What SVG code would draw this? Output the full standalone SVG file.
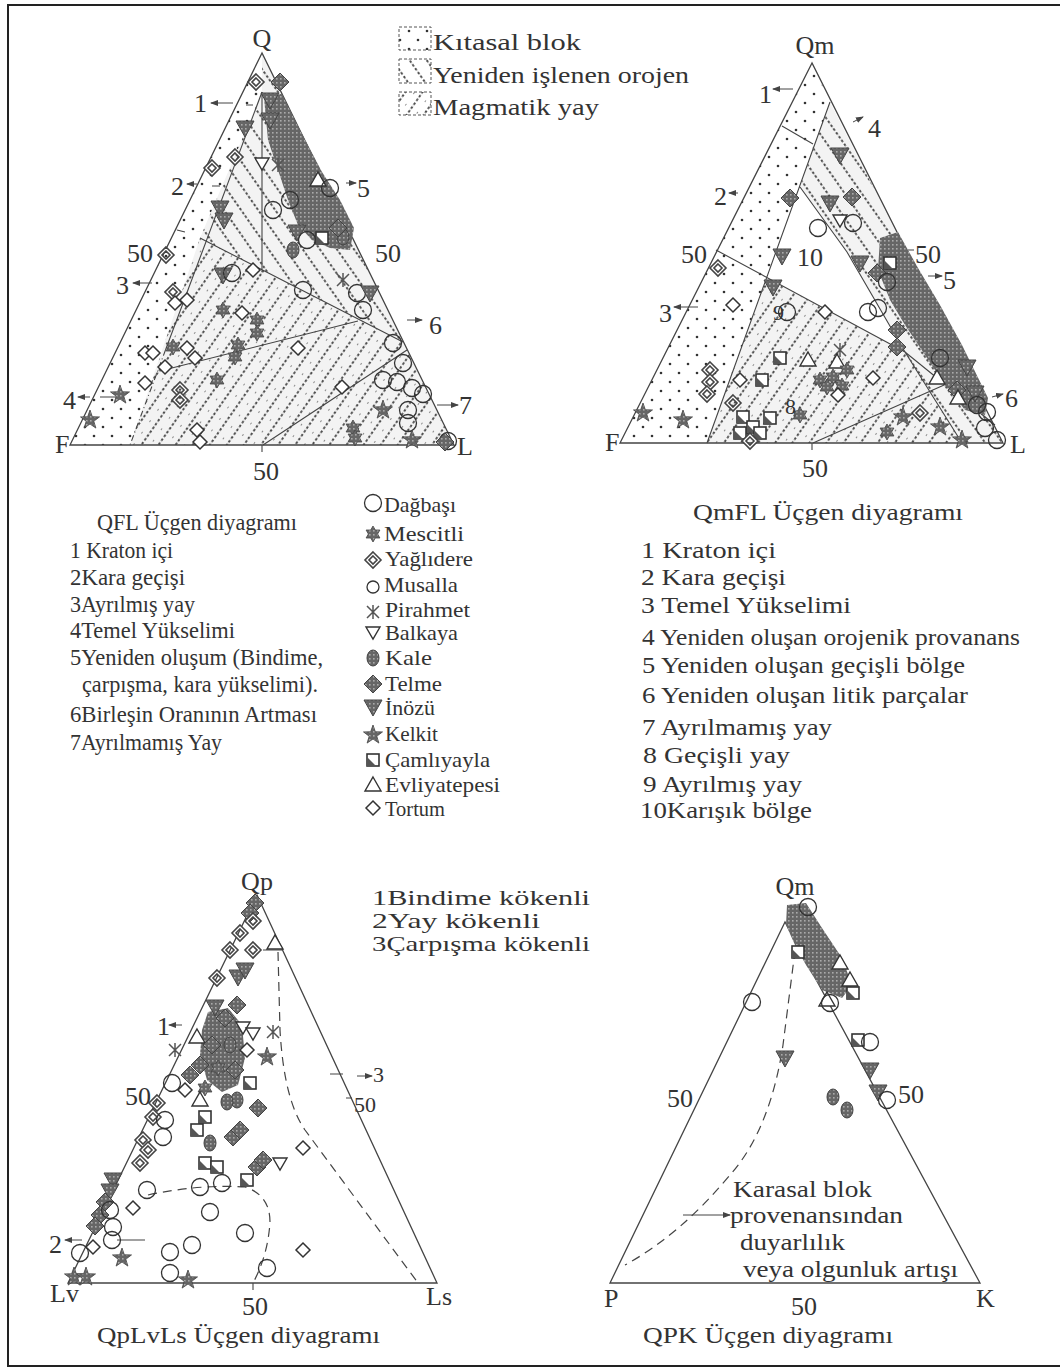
<svg xmlns="http://www.w3.org/2000/svg" width="1060" height="1370" viewBox="0 0 1060 1370">
<style>
.t{font-family:"Liberation Serif","DejaVu Serif",serif;fill:#333;font-size:24px}
.s{font-size:22px}
.lg{font-size:21px}
.ax{font-size:26px}
.side{fill:none;stroke:#444;stroke-width:1.3}
.ln{fill:none;stroke:#444;stroke-width:1.1}
.dash{fill:none;stroke:#444;stroke-width:1.2;stroke-dasharray:9 6}
.ar{fill:none;stroke:#444;stroke-width:1;marker-end:url(#ah)}
</style>
<defs>
<marker id="ah" viewBox="0 0 8 6" refX="7" refY="3" markerWidth="8" markerHeight="6" markerUnits="userSpaceOnUse" orient="auto"><path d="M0,0 L8,3 L0,6 Z" fill="#444"/></marker>
<pattern id="dots" width="18" height="18" patternUnits="userSpaceOnUse"><circle cx="4" cy="4" r="1.3" fill="#333"/><circle cx="13" cy="13" r="1.3" fill="#333"/></pattern>
<pattern id="hb" width="14" height="14" patternUnits="userSpaceOnUse" patternTransform="rotate(-35)"><line x1="7" y1="0" x2="7" y2="14" stroke="#333" stroke-width="1.7" stroke-dasharray="2.5 2.167"/></pattern>
<pattern id="hf" width="14" height="14" patternUnits="userSpaceOnUse" patternTransform="rotate(35)"><line x1="7" y1="0" x2="7" y2="14" stroke="#333" stroke-width="1.7" stroke-dasharray="2.5 2.167"/><circle cx="0" cy="7" r="0.9" fill="#555"/></pattern>
<pattern id="gt" width="4" height="4" patternUnits="userSpaceOnUse"><rect width="4" height="4" fill="#666"/><rect width="1.6" height="1.6" fill="#aaa"/></pattern>
<g id="c"><circle r="8.5" fill="none" stroke="#333" stroke-width="1.3"/></g>
<g id="m"><circle r="6" fill="none" stroke="#333" stroke-width="1.3"/></g>
<g id="ms"><path d="M0,-8 L2.3,-4 6.9,-4 4.6,0 6.9,4 2.3,4 0,8 -2.3,4 -6.9,4 -4.6,0 -6.9,-4 -2.3,-4Z" fill="url(#gt)" stroke="#444" stroke-width="0.8"/></g>
<g id="yg"><path d="M0,-8 L8,0 0,8 -8,0Z M0,-4 L4,0 0,4 -4,0Z" fill="#fff" fill-rule="evenodd" stroke="#444" stroke-width="1.6"/></g>
<g id="pr"><path d="M-6,-6 L6,6 M-6,6 L6,-6 M0,-7 L0,7" fill="none" stroke="#555" stroke-width="1.5"/></g>
<g id="bl"><path d="M-7,-5 L7,-5 0,7Z" fill="#fff" stroke="#333" stroke-width="1.4"/></g>
<g id="kl"><ellipse rx="6" ry="8" fill="url(#gt)" stroke="#444"/></g>
<g id="tl"><path d="M0,-9 L9,0 0,9 -9,0Z" fill="url(#gt)" stroke="#444"/></g>
<g id="in"><path d="M-9,-7 L9,-7 0,9Z" fill="url(#gt)" stroke="#444"/></g>
<g id="kk"><path d="M0,-10 L2.35,-3.24 9.51,-3.09 3.8,1.24 5.88,8.09 0,4 -5.88,8.09 -3.8,1.24 -9.51,-3.09 -2.35,-3.24Z" fill="url(#gt)" stroke="#444" stroke-width="0.8"/></g>
<g id="cm"><rect x="-6" y="-6" width="12" height="12" fill="#fff" stroke="#333" stroke-width="1.6"/><path d="M-6,-3 L3,6 L-6,6Z" fill="#555"/></g>
<g id="ev"><path d="M0,-8 L8,6 -8,6Z" fill="#fff" stroke="#333" stroke-width="1.4"/></g>
<g id="tr"><path d="M0,-7 L7,0 0,7 -7,0Z" fill="#fff" stroke="#333" stroke-width="1.5"/></g>
</defs>
<rect width="1060" height="1370" fill="#fff"/>
<path d="M1060,5 L8,5 L8,1366 L1060,1366" fill="none" stroke="#222" stroke-width="2"/>

<g id="legend-fields">
<rect x="399" y="27" width="32" height="23" fill="url(#dots)" stroke="#555" stroke-dasharray="3 2"/>
<rect x="399" y="59" width="32" height="24" fill="url(#hb)" stroke="#555" stroke-dasharray="3 2"/>
<rect x="399" y="92" width="32" height="23" fill="url(#hf)" stroke="#555" stroke-dasharray="3 2"/>
<text class="t" x="433" y="50" textLength="148" lengthAdjust="spacingAndGlyphs">Kıtasal blok</text>
<text class="t" x="433" y="83" textLength="256" lengthAdjust="spacingAndGlyphs">Yeniden işlenen orojen</text>
<text class="t" x="433" y="115" textLength="166" lengthAdjust="spacingAndGlyphs">Magmatik yay</text>
</g>

<g id="qfl">
<polygon points="262,53 70,445 130,445 262,92" fill="url(#dots)"/>
<polygon points="262,53 403,342 200,238 262,92" fill="#f3f3f3"/>
<polygon points="262,53 403,342 200,238 262,92" fill="url(#hb)"/>
<polygon points="200,238 403,342 454,445 130,445" fill="#f3f3f3"/>
<polygon points="200,238 403,342 454,445 130,445" fill="url(#hf)"/>
<polygon class="side" points="262,53 70,445 454,445"/>
<path class="ln" d="M262,92 L165.5,350"/>
<path class="ln" d="M165.5,350 L130,445" stroke-dasharray="6 3 1 3"/>
<path class="ln" d="M262,92 L262,272 M200,238 L403,342 M160,371 L358,321 M263,445 L407,350"/>
<path class="ln" d="M246,105 L253,105 M212,186 L220,186 M177,230 L185,232 M100,397 L118,397 M262,445 L262,452"/>
<path class="ar" d="M233,103 L211,103"/>
<path class="ar" d="M197,184 L187,184"/>
<path class="ar" d="M152,283 L133,283"/>
<path class="ar" d="M90,397 L78,397"/>
<path class="ar" d="M346,183 L356,183"/>
<path class="ar" d="M407,320 L422,320"/>
<path class="ar" d="M437,405 L458,405"/>
<polygon points="264,98 282,94 300,130 322,172 340,200 354,228 350,250 330,248 312,240 298,225 288,200 278,170 268,140" fill="url(#gt)"/>
<use href="#yg" x="256" y="82"/><use href="#tl" x="280" y="82"/>
<use href="#in" x="245" y="128"/><use href="#in" x="270" y="100"/><use href="#in" x="270" y="120"/>
<use href="#yg" x="235" y="157"/><use href="#yg" x="212" y="168"/><use href="#yg" x="166" y="255"/>
<use href="#bl" x="262" y="163"/><use href="#pr" x="278" y="165"/>
<use href="#in" x="220" y="208"/><use href="#in" x="224" y="220"/><use href="#c" x="273" y="210"/><use href="#c" x="290" y="200"/>
<use href="#ev" x="318" y="180"/><use href="#c" x="330" y="188"/><use href="#in" x="297" y="232"/><use href="#c" x="307" y="240"/>
<use href="#cm" x="322" y="238"/><use href="#kl" x="293" y="250"/><use href="#kl" x="343" y="237"/><use href="#tl" x="338" y="228"/>
<use href="#in" x="223" y="275"/><use href="#c" x="232" y="273"/><use href="#tr" x="253" y="270"/><use href="#c" x="303" y="290"/>
<use href="#pr" x="343" y="280"/><use href="#c" x="357" y="293"/><use href="#in" x="370" y="293"/><use href="#c" x="363" y="310"/>
<use href="#yg" x="173" y="292"/><use href="#tr" x="175" y="303"/><use href="#tr" x="187" y="300"/>
<use href="#ms" x="223" y="310"/><use href="#tr" x="242" y="313"/><use href="#ms" x="257" y="320"/><use href="#ms" x="257" y="333"/>
<use href="#c" x="393" y="343"/>
<use href="#tr" x="145" y="353"/><use href="#tr" x="153" y="353"/><use href="#ms" x="173" y="347"/><use href="#tr" x="187" y="348"/><use href="#tr" x="195" y="358"/>
<use href="#ms" x="238" y="345"/><use href="#ms" x="235" y="357"/><use href="#tr" x="298" y="348"/><use href="#tr" x="165" y="367"/>
<use href="#c" x="403" y="363"/><use href="#c" x="397" y="382"/><use href="#c" x="383" y="380"/><use href="#c" x="412" y="388"/><use href="#c" x="423" y="394"/>
<use href="#tr" x="145" y="383"/><use href="#ms" x="217" y="380"/><use href="#tr" x="342" y="387"/><use href="#yg" x="180" y="390"/><use href="#yg" x="180" y="400"/>
<use href="#kk" x="120" y="395"/><use href="#kk" x="90" y="420"/>
<use href="#kk" x="383" y="410"/><use href="#c" x="408" y="410"/><use href="#c" x="408" y="423"/>
<use href="#tr" x="197" y="430"/><use href="#tr" x="200" y="442"/>
<use href="#ms" x="353" y="428"/><use href="#ms" x="355" y="438"/><use href="#kk" x="412" y="440"/>
<use href="#c" x="448" y="441"/><use href="#tl" x="445" y="442"/>
<text class="t ax" x="262" y="47" text-anchor="middle">Q</text>
<text class="t ax" x="55" y="453">F</text>
<text class="t ax" x="457" y="455">L</text>
<text class="t ax" x="153" y="262" text-anchor="end">50</text>
<text class="t ax" x="375" y="262">50</text>
<text class="t ax" x="266" y="480" text-anchor="middle">50</text>
<text class="t ax" x="194" y="112">1</text>
<text class="t ax" x="171" y="195">2</text>
<text class="t ax" x="116" y="294">3</text>
<text class="t ax" x="63" y="409">4</text>
<text class="t ax" x="357" y="197">5</text>
<text class="t ax" x="429" y="334">6</text>
<text class="t ax" x="459" y="414">7</text>
</g>

<g id="qmfl">
<polygon points="812,63 620,443 707,443 830,102" fill="url(#dots)"/>
<polygon points="830,102 1003,443 962,443 905,352 847,252 800,187" fill="#f3f3f3"/>
<polygon points="830,102 1003,443 962,443 905,352 847,252 800,187" fill="url(#hb)"/>
<polygon points="767,278 905,352 962,443 707,443" fill="#f3f3f3"/>
<polygon points="767,278 905,352 962,443 707,443" fill="url(#hf)"/>
<polygon class="side" points="812,63 620,443 1003,443"/>
<path class="ln" d="M782,126 L813,144 M830,102 L707,443 M800,187 L847,252 L905,352 L962,443 M716,250 L905,352 L995,425 M813,443 L969,374 M812,443 L812,450 M908,250 L914,250"/>
<path class="ar" d="M793,89 L773,89"/>
<path class="ar" d="M738,193 L729,193"/>
<path class="ar" d="M698,307 L674,307"/>
<path class="ar" d="M853,122 L863,117"/>
<path class="ar" d="M928,276 L942,276"/>
<path class="ar" d="M992,397 L1003,394"/>
<polygon points="880,238 898,232 918,268 940,305 962,345 988,398 985,415 965,410 945,385 925,355 905,325 890,300 878,270" fill="url(#gt)"/>
<use href="#in" x="840" y="155"/><use href="#tl" x="790" y="198"/><use href="#in" x="830" y="203"/><use href="#tl" x="852" y="197"/>
<use href="#c" x="818" y="228"/><use href="#bl" x="840" y="220"/><use href="#c" x="853" y="223"/>
<use href="#in" x="782" y="256"/>
<use href="#yg" x="718" y="268"/><use href="#in" x="773" y="287"/>
<use href="#tr" x="733" y="305"/><use href="#c" x="787" y="312"/><use href="#tr" x="825" y="312"/><use href="#c" x="868" y="312"/><use href="#c" x="878" y="308"/>
<use href="#in" x="860" y="263"/><use href="#tl" x="877" y="273"/><use href="#cm" x="890" y="263"/><use href="#c" x="887" y="282"/>
<use href="#tl" x="897" y="330"/><use href="#tl" x="897" y="347"/>
<use href="#yg" x="710" y="370"/><use href="#yg" x="710" y="382"/><use href="#yg" x="707" y="394"/><use href="#tr" x="740" y="380"/><use href="#yg" x="733" y="403"/>
<use href="#cm" x="762" y="380"/><use href="#cm" x="780" y="358"/>
<use href="#ev" x="808" y="360"/><use href="#pr" x="840" y="350"/><use href="#ev" x="837" y="362"/>
<use href="#ms" x="820" y="380"/><use href="#ms" x="833" y="377"/><use href="#ms" x="847" y="370"/><use href="#ms" x="827" y="387"/><use href="#ms" x="842" y="386"/>
<use href="#tr" x="873" y="378"/><use href="#tr" x="838" y="395"/>
<use href="#ms" x="800" y="415"/>
<use href="#cm" x="743" y="417"/><use href="#cm" x="753" y="427"/><use href="#cm" x="740" y="433"/><use href="#cm" x="760" y="433"/><use href="#cm" x="770" y="418"/>
<use href="#yg" x="750" y="441"/>
<use href="#kk" x="643" y="413"/><use href="#kk" x="683" y="420"/>
<use href="#kk" x="903" y="417"/><use href="#yg" x="920" y="413"/><use href="#ms" x="887" y="432"/><use href="#kk" x="940" y="427"/>
<use href="#in" x="967" y="367"/><use href="#in" x="975" y="393"/>
<use href="#tl" x="957" y="390"/><use href="#c" x="977" y="405"/><use href="#c" x="987" y="412"/><use href="#c" x="985" y="428"/><use href="#c" x="997" y="440"/><use href="#kk" x="962" y="440"/>
<use href="#ev" x="937" y="378"/><use href="#c" x="940" y="358"/><use href="#ev" x="958" y="398"/>
<text class="t ax" x="815" y="54" text-anchor="middle">Qm</text>
<text class="t ax" x="605" y="451">F</text>
<text class="t ax" x="1010" y="453">L</text>
<text class="t ax" x="707" y="263" text-anchor="end">50</text>
<text class="t ax" x="915" y="263">50</text>
<text class="t ax" x="815" y="477" text-anchor="middle">50</text>
<text class="t ax" x="759" y="103">1</text>
<text class="t ax" x="714" y="205">2</text>
<text class="t ax" x="659" y="322">3</text>
<text class="t ax" x="868" y="137">4</text>
<text class="t ax" x="943" y="289">5</text>
<text class="t ax" x="1005" y="407">6</text>
<text class="t ax" x="797" y="266">10</text>
<text class="t s" x="773" y="320">9</text>
<text class="t s" x="785" y="414">8</text>
</g>

<g id="qfl-list">
<text class="t" x="97" y="530" textLength="200" lengthAdjust="spacingAndGlyphs">QFL Üçgen diyagramı</text>
<text class="t" x="70" y="558" textLength="103" lengthAdjust="spacingAndGlyphs">1 Kraton içi</text>
<text class="t" x="70" y="585" textLength="115" lengthAdjust="spacingAndGlyphs">2Kara geçişi</text>
<text class="t" x="70" y="612" textLength="125" lengthAdjust="spacingAndGlyphs">3Ayrılmış yay</text>
<text class="t" x="70" y="638" textLength="165" lengthAdjust="spacingAndGlyphs">4Temel Yükselimi</text>
<text class="t" x="70" y="665" textLength="253" lengthAdjust="spacingAndGlyphs">5Yeniden oluşum (Bindime,</text>
<text class="t" x="82" y="692" textLength="236" lengthAdjust="spacingAndGlyphs">çarpışma, kara yükselimi).</text>
<text class="t" x="70" y="722" textLength="247" lengthAdjust="spacingAndGlyphs">6Birleşin Oranının Artması</text>
<text class="t" x="70" y="750" textLength="152" lengthAdjust="spacingAndGlyphs">7Ayrılmamış Yay</text>
</g>

<g id="symbol-legend">
<use href="#c" x="373" y="503"/>
<use href="#ms" x="373" y="534"/>
<use href="#yg" x="373" y="560"/>
<use href="#m" x="373" y="587"/>
<use href="#pr" x="373" y="612"/>
<use href="#bl" x="373" y="632"/>
<use href="#kl" x="373" y="658"/>
<use href="#tl" x="373" y="684"/>
<use href="#in" x="373" y="707"/>
<use href="#kk" x="373" y="735"/>
<use href="#cm" x="373" y="760"/>
<use href="#ev" x="373" y="785"/>
<use href="#tr" x="373" y="808"/>
<text class="t lg" x="384" y="512" textLength="72" lengthAdjust="spacingAndGlyphs">Dağbaşı</text>
<text class="t lg" x="384" y="541" textLength="80" lengthAdjust="spacingAndGlyphs">Mescitli</text>
<text class="t lg" x="385" y="566" textLength="88" lengthAdjust="spacingAndGlyphs">Yağlıdere</text>
<text class="t lg" x="384" y="592" textLength="74" lengthAdjust="spacingAndGlyphs">Musalla</text>
<text class="t lg" x="385" y="617" textLength="85" lengthAdjust="spacingAndGlyphs">Pirahmet</text>
<text class="t lg" x="385" y="640" textLength="73" lengthAdjust="spacingAndGlyphs">Balkaya</text>
<text class="t lg" x="385" y="665" textLength="47" lengthAdjust="spacingAndGlyphs">Kale</text>
<text class="t lg" x="385" y="691" textLength="57" lengthAdjust="spacingAndGlyphs">Telme</text>
<text class="t lg" x="385" y="715" textLength="50" lengthAdjust="spacingAndGlyphs">İnözü</text>
<text class="t lg" x="385" y="741" textLength="53" lengthAdjust="spacingAndGlyphs">Kelkit</text>
<text class="t lg" x="385" y="767" textLength="105" lengthAdjust="spacingAndGlyphs">Çamlıyayla</text>
<text class="t lg" x="385" y="792" textLength="115" lengthAdjust="spacingAndGlyphs">Evliyatepesi</text>
<text class="t lg" x="385" y="816" textLength="60" lengthAdjust="spacingAndGlyphs">Tortum</text>
</g>

<g id="qmfl-list">
<text class="t" x="693" y="520" textLength="270" lengthAdjust="spacingAndGlyphs">QmFL Üçgen diyagramı</text>
<text class="t" x="641" y="558" textLength="135" lengthAdjust="spacingAndGlyphs">1 Kraton içi</text>
<text class="t" x="641" y="585" textLength="145" lengthAdjust="spacingAndGlyphs">2 Kara geçişi</text>
<text class="t" x="641" y="613" textLength="210" lengthAdjust="spacingAndGlyphs">3 Temel Yükselimi</text>
<text class="t" x="642" y="645" textLength="378" lengthAdjust="spacingAndGlyphs">4 Yeniden oluşan orojenik provanans</text>
<text class="t" x="642" y="673" textLength="323" lengthAdjust="spacingAndGlyphs">5 Yeniden oluşan geçişli bölge</text>
<text class="t" x="642" y="703" textLength="326" lengthAdjust="spacingAndGlyphs">6 Yeniden oluşan litik parçalar</text>
<text class="t" x="642" y="735" textLength="190" lengthAdjust="spacingAndGlyphs">7 Ayrılmamış yay</text>
<text class="t" x="643" y="763" textLength="147" lengthAdjust="spacingAndGlyphs">8 Geçişli yay</text>
<text class="t" x="643" y="792" textLength="159" lengthAdjust="spacingAndGlyphs">9 Ayrılmış yay</text>
<text class="t" x="640" y="818" textLength="172" lengthAdjust="spacingAndGlyphs">10Karışık bölge</text>
</g>

<g id="qplvls">
<polygon class="side" points="257,895 68,1283 437,1283"/>
<path class="ln" d="M263,950 L282,950 M253,1283 L253,1290 M330,1074 L343,1074 M346,1098 L352,1098 M117,1240 L145,1240"/>
<path class="dash" d="M278,952 L280,1030 Q284,1100 305,1130 L418,1283"/>
<path class="dash" d="M148,1195 Q200,1184 245,1187 Q270,1195 270,1222 Q268,1255 253,1283"/>
<path class="ar" d="M182,1025 L169,1025"/>
<path class="ar" d="M82,1240 L65,1240"/>
<path class="ar" d="M357,1076 L372,1076"/>
<polygon points="208,1012 228,1008 242,1025 245,1058 238,1085 222,1092 207,1080 200,1055 202,1030" fill="url(#gt)"/>
<use href="#tl" x="255" y="903"/><use href="#tl" x="250" y="913"/><use href="#yg" x="253" y="921"/>
<use href="#yg" x="240" y="933"/><use href="#yg" x="230" y="950"/><use href="#yg" x="253" y="950"/>
<use href="#ev" x="275" y="943"/>
<use href="#yg" x="217" y="978"/><use href="#in" x="238" y="977"/><use href="#in" x="245" y="970"/>
<use href="#in" x="215" y="1007"/><use href="#tl" x="237" y="1005"/><use href="#tl" x="225" y="1018"/>
<use href="#ev" x="197" y="1037"/><use href="#bl" x="243" y="1027"/><use href="#bl" x="253" y="1033"/>
<use href="#tl" x="212" y="1045"/><use href="#kl" x="230" y="1045"/><use href="#tl" x="200" y="1065"/><use href="#ms" x="218" y="1068"/><use href="#tl" x="235" y="1070"/>
<use href="#pr" x="273" y="1032"/><use href="#kk" x="267" y="1057"/><use href="#tr" x="247" y="1050"/>
<use href="#pr" x="175" y="1050"/><use href="#c" x="172" y="1083"/><use href="#tr" x="185" y="1090"/>
<use href="#tl" x="190" y="1075"/><use href="#ms" x="205" y="1088"/>
<use href="#cm" x="250" y="1083"/><use href="#kl" x="237" y="1100"/><use href="#kl" x="227" y="1102"/>
<use href="#tl" x="258" y="1108"/>
<use href="#yg" x="157" y="1103"/><use href="#yg" x="153" y="1117"/><use href="#yg" x="143" y="1140"/><use href="#yg" x="148" y="1150"/><use href="#yg" x="140" y="1163"/>
<use href="#c" x="163" y="1137"/><use href="#c" x="165" y="1120"/>
<use href="#ev" x="200" y="1100"/><use href="#cm" x="205" y="1117"/><use href="#cm" x="197" y="1130"/>
<use href="#kl" x="210" y="1143"/><use href="#tl" x="233" y="1137"/><use href="#tl" x="240" y="1130"/>
<use href="#cm" x="205" y="1163"/><use href="#cm" x="217" y="1167"/>
<use href="#c" x="200" y="1187"/><use href="#c" x="222" y="1183"/>
<use href="#cm" x="247" y="1180"/><use href="#tl" x="257" y="1167"/><use href="#tl" x="263" y="1160"/><use href="#bl" x="280" y="1163"/><use href="#tr" x="303" y="1148"/>
<use href="#in" x="113" y="1180"/><use href="#in" x="110" y="1191"/><use href="#tl" x="105" y="1202"/><use href="#tl" x="100" y="1215"/><use href="#tl" x="95" y="1226"/>
<use href="#c" x="147" y="1190"/>
<use href="#c" x="110" y="1210"/><use href="#c" x="113" y="1227"/><use href="#c" x="112" y="1240"/><use href="#tr" x="133" y="1208"/><use href="#kk" x="122" y="1258"/>
<use href="#c" x="80" y="1253"/><use href="#tr" x="93" y="1247"/>
<use href="#kk" x="74" y="1277"/><use href="#kk" x="86" y="1277"/>
<use href="#c" x="210" y="1212"/><use href="#c" x="245" y="1233"/><use href="#c" x="192" y="1245"/><use href="#c" x="170" y="1252"/><use href="#c" x="170" y="1273"/><use href="#c" x="267" y="1268"/>
<use href="#kk" x="188" y="1280"/><use href="#tr" x="303" y="1250"/>
<text class="t ax" x="257" y="890" text-anchor="middle">Qp</text>
<text class="t ax" x="50" y="1302">Lv</text>
<text class="t ax" x="426" y="1305">Ls</text>
<text class="t ax" x="255" y="1315" text-anchor="middle">50</text>
<text class="t ax" x="151" y="1105" text-anchor="end">50</text>
<text class="t s" x="354" y="1112">50</text>
<text class="t ax" x="157" y="1035">1</text>
<text class="t ax" x="49" y="1253">2</text>
<text class="t s" x="373" y="1082">3</text>
</g>

<g id="qplvls-list">
<text class="t s" x="372" y="905" textLength="218" lengthAdjust="spacingAndGlyphs">1Bindime kökenli</text>
<text class="t s" x="372" y="928" textLength="168" lengthAdjust="spacingAndGlyphs">2Yay kökenli</text>
<text class="t s" x="372" y="951" textLength="218" lengthAdjust="spacingAndGlyphs">3Çarpışma kökenli</text>
<text class="t" x="97" y="1343" textLength="283" lengthAdjust="spacingAndGlyphs">QpLvLs Üçgen diyagramı</text>
</g>

<g id="qpk">
<polygon class="side" points="785,922 610,1283 980,1283"/>
<path class="dash" d="M797,935 L783,1045 Q770,1130 730,1175 Q680,1235 625,1265"/>
<path class="ar" d="M683,1215 L730,1215"/>
<polygon points="787,905 806,903 822,928 842,958 852,985 842,998 822,990 806,965 795,945 786,925" fill="url(#gt)"/>
<use href="#c" x="808" y="907"/><use href="#cm" x="798" y="952"/><use href="#ev" x="840" y="963"/><use href="#ev" x="850" y="980"/><use href="#cm" x="853" y="993"/>
<use href="#ev" x="827" y="1000"/><use href="#c" x="830" y="1003"/>
<use href="#c" x="752" y="1002"/><use href="#in" x="785" y="1058"/>
<use href="#cm" x="858" y="1040"/><use href="#c" x="870" y="1042"/>
<use href="#in" x="870" y="1070"/><use href="#in" x="878" y="1092"/><use href="#c" x="887" y="1100"/>
<use href="#kl" x="833" y="1097"/><use href="#kl" x="847" y="1110"/>
<text class="t ax" x="795" y="895" text-anchor="middle">Qm</text>
<text class="t ax" x="604" y="1307">P</text>
<text class="t ax" x="976" y="1307">K</text>
<text class="t ax" x="804" y="1315" text-anchor="middle">50</text>
<text class="t ax" x="693" y="1107" text-anchor="end">50</text>
<text class="t ax" x="898" y="1103">50</text>
<text class="t" x="733" y="1197" textLength="139" lengthAdjust="spacingAndGlyphs">Karasal blok</text>
<text class="t" x="730" y="1223" textLength="173" lengthAdjust="spacingAndGlyphs">provenansından</text>
<text class="t" x="740" y="1250" textLength="105" lengthAdjust="spacingAndGlyphs">duyarlılık</text>
<text class="t" x="743" y="1277" textLength="215" lengthAdjust="spacingAndGlyphs">veya olgunluk artışı</text>
<text class="t" x="643" y="1343" textLength="250" lengthAdjust="spacingAndGlyphs">QPK Üçgen diyagramı</text>
</g>
</svg>
